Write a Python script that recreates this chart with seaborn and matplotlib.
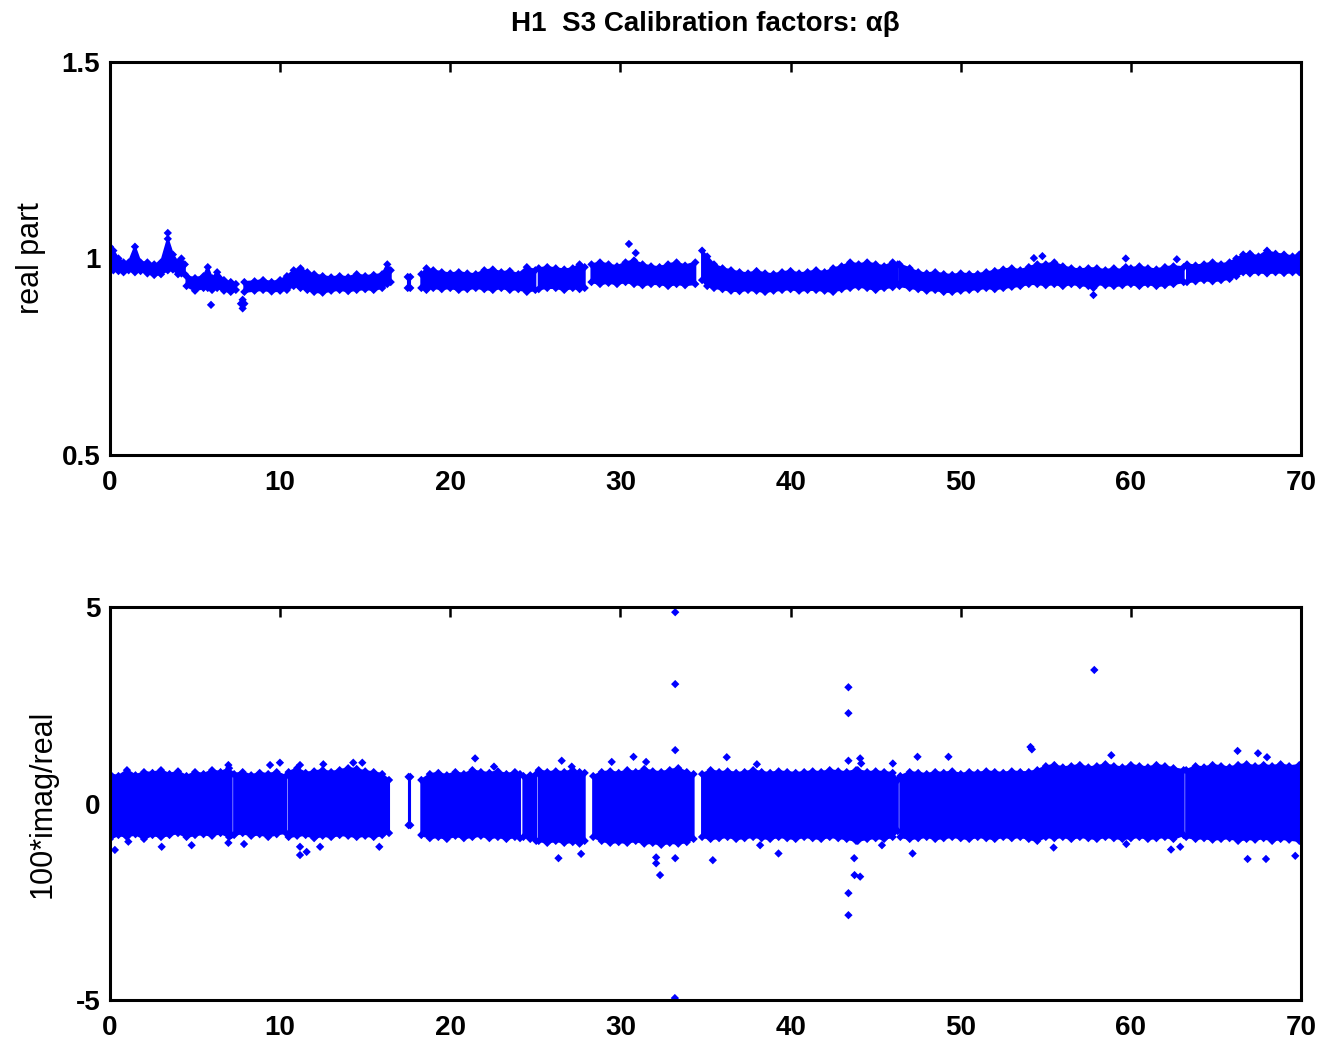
import numpy as np
import matplotlib
matplotlib.use("Agg")
import matplotlib.pyplot as plt
import seaborn as sns

nan = np.nan

# ---- top panel: real part, band envelopes (NaN = gap between data runs)
real_x = [0, 0.2, 0.5, 0.8, 1.1, 1.47, 1.8, 2.2, 2.6, 3.0, 3.4, 3.7, 4.0, 4.2, 4.4, nan,
          4.5, 5.0, 5.5, 5.75, 6.0, 6.3, 6.7, 7.1, 7.4, nan,
          7.9, 8.5, 9.0, 9.5, 10.0, 10.4,
          10.8, 11.2, 11.6, 12.0, 12.5, 13.0, 13.5, 14.0, 14.5, 15.0, 15.5, 16.0, 16.3, 16.5, nan,
          17.5, 17.65, nan,
          18.3, 18.6, 19.0, 19.5, 20.0, 20.5, 21.0, 21.5, 22.0, 22.5, 23.0, 23.5, 24.0, 24.5, 25.0, nan,
          25.2, 25.7, 26.2, 26.7, 27.2, 27.6, 27.9, nan,
          28.3, 28.8, 29.3, 29.8, 30.3, 30.8, 31.3, 31.8, 32.3, 32.8, 33.3, 33.8, 34.4, nan,
          34.8, 35.1, 35.5, 36.0, 36.5, 37.0, 37.5, 38.0, 38.5, 39.0, 39.5, 40.0, 40.5, 41.0,
          41.5, 42.0, 42.5, 43.0, 43.5, 44.0, 44.5, 45.0, 45.5, 46.0, 46.3, nan,
          46.4, 47.0, 47.5, 48.0, 48.5, 49.0, 49.5, 50.0, 50.5, 51.0, 51.5, 52.0, 52.5, 53.0,
          53.5, 54.0, 54.5, 55.0, 55.5, 56.0, 56.5, 57.0, 57.5, 58.0, 58.5, 59.0, 59.5, 60.0,
          60.5, 61.0, 61.5, 62.0, 62.5, 63.1, nan,
          63.3, 63.8, 64.3, 64.8, 65.3, 65.8, 66.2, 66.6, 67.0, 67.5, 68.0, 68.5, 69.0, 69.5, 69.9]
real_hi = [1.03, 1.02, 1.0, 0.99, 0.99, 1.03, 0.99, 0.99, 0.985, 0.99, 1.05, 1.01, 0.99, 1.0, 0.985, nan,
           0.955, 0.95, 0.955, 0.978, 0.95, 0.965, 0.945, 0.94, 0.935, nan,
           0.94, 0.942, 0.945, 0.94, 0.945, 0.955,
           0.97, 0.975, 0.965, 0.96, 0.955, 0.952, 0.955, 0.952, 0.96, 0.955, 0.958, 0.96, 0.985, 0.97, nan,
           0.953, 0.953, nan,
           0.96, 0.975, 0.97, 0.965, 0.962, 0.965, 0.962, 0.96, 0.97, 0.972, 0.965, 0.968, 0.96, 0.978, 0.97, nan,
           0.975, 0.978, 0.975, 0.972, 0.975, 0.985, 0.978, nan,
           0.985, 0.99, 0.985, 0.98, 0.99, 0.995, 0.985, 0.98, 0.978, 0.985, 0.99, 0.982, 0.99, nan,
           1.02, 1.005, 0.985, 0.975, 0.97, 0.965, 0.962, 0.968, 0.962, 0.96, 0.965, 0.968, 0.962, 0.965,
           0.97, 0.965, 0.975, 0.98, 0.99, 0.985, 0.99, 0.985, 0.98, 0.99, 0.985, nan,
           0.985, 0.975, 0.965, 0.962, 0.965, 0.96, 0.958, 0.962, 0.96, 0.96, 0.965, 0.968, 0.972, 0.975,
           0.97, 0.978, 0.985, 0.985, 0.99, 0.98, 0.975, 0.972, 0.975, 0.975, 0.97, 0.975, 0.97, 0.975,
           0.98, 0.975, 0.972, 0.978, 0.98, 0.978, nan,
           0.985, 0.982, 0.985, 0.99, 0.985, 0.99, 1.0, 1.01, 1.012, 1.005, 1.02, 1.012, 1.01, 1.005, 1.01]
real_lo = [0.975, 0.97, 0.968, 0.965, 0.97, 0.965, 0.968, 0.962, 0.958, 0.96, 0.97, 0.972, 0.96, 0.962, 0.96, nan,
           0.93, 0.918, 0.925, 0.925, 0.92, 0.925, 0.918, 0.915, 0.92, nan,
           0.915, 0.918, 0.92, 0.916, 0.918, 0.92,
           0.93, 0.925, 0.92, 0.915, 0.913, 0.918, 0.92, 0.917, 0.92, 0.922, 0.92, 0.925, 0.935, 0.94, nan,
           0.925, 0.925, nan,
           0.925, 0.92, 0.925, 0.922, 0.925, 0.92, 0.922, 0.925, 0.922, 0.92, 0.925, 0.92, 0.922, 0.915, 0.92, nan,
           0.922, 0.925, 0.925, 0.92, 0.925, 0.922, 0.925, nan,
           0.94, 0.935, 0.938, 0.935, 0.94, 0.935, 0.932, 0.935, 0.935, 0.93, 0.935, 0.932, 0.935, nan,
           0.945, 0.93, 0.925, 0.922, 0.918, 0.917, 0.92, 0.918, 0.915, 0.918, 0.92, 0.922, 0.918, 0.92,
           0.92, 0.918, 0.915, 0.922, 0.925, 0.928, 0.925, 0.92, 0.925, 0.927, 0.935, nan,
           0.93, 0.925, 0.922, 0.918, 0.92, 0.915, 0.915, 0.918, 0.92, 0.922, 0.925, 0.922, 0.925, 0.928,
           0.93, 0.935, 0.935, 0.932, 0.935, 0.93, 0.935, 0.932, 0.93, 0.935, 0.932, 0.93, 0.932, 0.935,
           0.93, 0.935, 0.93, 0.932, 0.935, 0.94, nan,
           0.94, 0.942, 0.945, 0.942, 0.945, 0.948, 0.955, 0.965, 0.962, 0.965, 0.962, 0.965, 0.963, 0.965, 0.965]

# isolated points of the real part
real_out_x = [5.94, 7.7, 7.9, 7.8, 7.8, 30.5, 30.9, 54.3, 54.8, 57.8, 57.8, 59.7, 59.7, 62.7, 3.4]
real_out_y = [0.882, 0.885, 0.885, 0.873, 0.895, 1.037, 1.014, 1.001, 1.006, 0.925, 0.907, 1.0, 0.978, 0.998, 1.065]

# ---- bottom panel: 100*imag/real, band envelopes
imag_x = [0, 0.5, 1.0, 1.5, 2.0, 2.5, 3.0, 3.5, 4.0, 4.5, 5.0, 5.5, 6.0, 6.5, 7.0, 7.15, nan,
          7.3, 7.8, 8.3, 8.8, 9.3, 9.8, 10.35, nan,
          10.5, 11.0, 11.5, 12.0, 12.5, 13.0, 13.5, 14.0, 14.5, 15.0, 15.5, 16.0, 16.4, nan,
          17.55, 17.65, nan,
          18.3, 18.8, 19.3, 19.8, 20.3, 20.8, 21.3, 21.8, 22.3, 22.8, 23.3, 23.8, 24.1, nan,
          24.3, 24.7, 25.05, nan,
          25.2, 25.7, 26.2, 26.7, 27.2, 27.6, 27.9, nan,
          28.4, 28.9, 29.4, 29.9, 30.4, 30.9, 31.4, 31.9, 32.4, 32.9, 33.4, 33.9, 34.3, nan,
          34.8, 35.3, 35.8, 36.3, 36.8, 37.3, 37.8, 38.3, 38.8, 39.3, 39.8, 40.3, 40.8, 41.3,
          41.8, 42.3, 42.8, 43.3, 43.85, nan,
          43.95, 44.5, 45.0, 45.5, 46.0, 46.3, nan,
          46.45, 47.0, 47.5, 48.0, 48.5, 49.0, 49.5, 50.0, 50.5, 51.0, 51.5, 52.0, 52.5, 53.0,
          53.5, 54.0, 54.5, 55.0, 55.5, 56.0, 56.5, 57.0, 57.5, 58.0, 58.5, 59.0, 59.5, 60.0,
          60.5, 61.0, 61.5, 62.0, 62.5, 63.1, nan,
          63.25, 63.8, 64.3, 64.8, 65.3, 65.8, 66.3, 66.8, 67.3, 67.8, 68.3, 68.8, 69.3, 69.9]
imag_hi = [0.75, 0.7, 0.85, 0.72, 0.8, 0.78, 0.85, 0.75, 0.82, 0.7, 0.8, 0.75, 0.85, 0.8, 0.9, 0.75, nan,
           0.75, 0.8, 0.72, 0.78, 0.75, 0.8, 0.7, nan,
           0.8, 0.9, 0.78, 0.82, 0.85, 0.8, 0.85, 0.9, 0.88, 0.82, 0.8, 0.75, 0.6, nan,
           0.68, 0.68, nan,
           0.6, 0.75, 0.78, 0.72, 0.8, 0.75, 0.85, 0.8, 0.78, 0.82, 0.75, 0.8, 0.75, nan,
           0.7, 0.72, 0.75, nan,
           0.85, 0.8, 0.82, 0.8, 0.85, 0.8, 0.78, nan,
           0.7, 0.8, 0.82, 0.78, 0.85, 0.8, 0.88, 0.82, 0.8, 0.85, 0.9, 0.8, 0.75, nan,
           0.75, 0.85, 0.8, 0.82, 0.78, 0.8, 0.85, 0.8, 0.78, 0.82, 0.8, 0.78, 0.8, 0.82,
           0.8, 0.85, 0.82, 0.8, 0.85, nan,
           0.85, 0.8, 0.82, 0.8, 0.78, 0.6, nan,
           0.7, 0.8, 0.78, 0.75, 0.8, 0.78, 0.82, 0.75, 0.8, 0.78, 0.82, 0.8, 0.78, 0.82,
           0.8, 0.8, 0.85, 0.95, 0.98, 0.92, 0.95, 0.98, 0.92, 0.95, 1.0, 0.95, 0.92, 0.98,
           0.95, 0.92, 0.98, 0.95, 0.9, 0.85, nan,
           0.85, 0.95, 0.92, 0.98, 0.95, 0.92, 0.98, 1.0, 0.95, 0.98, 0.95, 1.0, 0.95, 0.98]
imag_lo = [-0.9, -0.8, -0.85, -0.78, -0.9, -0.8, -0.85, -0.8, -0.75, -0.85, -0.8, -0.78, -0.82, -0.75, -0.85, -0.8, nan,
           -0.8, -0.75, -0.82, -0.78, -0.85, -0.78, -0.75, nan,
           -0.85, -0.82, -0.8, -0.88, -0.82, -0.85, -0.8, -0.82, -0.85, -0.82, -0.85, -0.8, -0.75, nan,
           -0.55, -0.55, nan,
           -0.8, -0.88, -0.85, -0.9, -0.82, -0.88, -0.85, -0.82, -0.88, -0.85, -0.9, -0.85, -0.88, nan,
           -0.85, -0.9, -0.95, nan,
           -0.95, -1.0, -0.95, -1.0, -0.98, -1.02, -0.95, nan,
           -0.85, -0.95, -1.0, -0.98, -1.0, -0.95, -1.02, -1.0, -1.05, -1.0, -1.02, -0.98, -0.9, nan,
           -0.85, -0.9, -0.88, -0.85, -0.9, -0.88, -0.85, -0.88, -0.9, -0.85, -0.88, -0.9, -0.85, -0.88,
           -0.9, -0.85, -0.88, -0.9, -0.95, nan,
           -0.95, -0.9, -0.88, -0.9, -0.85, -0.7, nan,
           -0.85, -0.9, -0.88, -0.85, -0.9, -0.88, -0.85, -0.88, -0.9, -0.85, -0.88, -0.9, -0.85, -0.88,
           -0.85, -0.9, -0.95, -0.85, -0.88, -0.85, -0.9, -0.85, -0.88, -0.9, -0.85, -0.88, -0.9, -0.88,
           -0.85, -0.9, -0.88, -0.85, -0.9, -0.8, nan,
           -0.85, -0.9, -0.88, -0.92, -0.9, -0.88, -0.95, -0.9, -0.92, -0.88, -0.95, -0.9, -0.92, -0.95]

# isolated points of the imaginary ratio
imag_out_x = [6.96, 9.41, 9.99, 11.17, 12.54, 14.3, 14.83,
              0.29, 1.08, 3.04, 4.8, 6.96, 7.88, 11.17, 11.17, 11.56, 12.35, 15.83,
              21.46, 22.57, 26.55, 27.14, 29.49, 30.77, 31.51, 33.22,
              26.36, 27.69, 32.1, 32.1, 32.33, 33.22, 35.43,
              36.25, 38.02, 43.4, 44.09, 44.15, 46.01, 47.46, 49.28,
              38.21, 39.29, 43.74, 43.76, 44.09, 47.17, 45.37,
              54.18, 58.85, 66.27, 67.47, 68.0,
              55.46, 59.73, 62.36, 62.9, 66.86, 67.94, 69.66,
              33.22, 33.22, 43.4, 43.4, 43.4, 43.4, 57.85, 54.1, 33.2]
imag_out_y = [0.98, 0.98, 1.04, 0.98, 1.0, 1.04, 1.04,
              -1.18, -0.97, -1.1, -1.06, -1.0, -1.03, -1.1, -1.31, -1.23, -1.1, -1.1,
              1.15, 0.94, 1.09, 0.94, 1.06, 1.19, 1.06, 1.36,
              -1.39, -1.28, -1.37, -1.52, -1.82, -1.39, -1.44,
              1.18, 1.0, 1.09, 1.15, 1.02, 1.02, 1.19, 1.19,
              -1.06, -1.27, -1.39, -1.82, -1.86, -1.27, -1.06,
              1.38, 1.23, 1.34, 1.28, 1.18,
              -1.12, -1.03, -1.17, -1.1, -1.41, -1.41, -1.33,
              4.87, 3.04, 2.96, 2.3, -2.28, -2.84, 3.4, 1.44, -4.95]

xticks = [0, 10, 20, 30, 40, 50, 60, 70]
real_ticks = [0.5, 1, 1.5]
real_ticklabels = ["0.5", "1", "1.5"]
imag_ticks = [-5, 0, 5]
imag_ticklabels = ["-5", "0", "5"]

sns.set_style("white")
plt.rcParams['font.family'] = ['Liberation Sans', 'DejaVu Sans']
plt.rcParams['text.color'] = 'black'
plt.rcParams['axes.labelcolor'] = 'black'
plt.rcParams['xtick.color'] = 'black'
plt.rcParams['ytick.color'] = 'black'

blue = '#0000FF'
fig = plt.figure(figsize=(13.23, 10.44), dpi=100)
ax1 = fig.add_axes([0.0831, 0.5642, 0.9003, 0.3764])
ax2 = fig.add_axes([0.0831, 0.0421, 0.9003, 0.3764])


def draw_band(ax, x, lo, hi):
    x = np.array(x, dtype=float)
    lo = np.array(lo, dtype=float)
    hi = np.array(hi, dtype=float)
    ax.fill_between(x, lo, hi, color=blue, linewidth=1.5, edgecolor=blue)
    # speckled edges like the individual markers
    ok = ~np.isnan(x)
    sns.scatterplot(x=np.r_[x[ok], x[ok]], y=np.r_[lo[ok], hi[ok]], ax=ax,
                    marker='D', s=18, color=blue, edgecolor='none', linewidth=0)


draw_band(ax1, real_x, real_lo, real_hi)
sns.scatterplot(x=real_out_x, y=real_out_y, ax=ax1, marker='D', s=18,
                color=blue, edgecolor='none', linewidth=0)
draw_band(ax2, imag_x, imag_lo, imag_hi)
sns.scatterplot(x=imag_out_x, y=imag_out_y, ax=ax2, marker='D', s=18,
                color=blue, edgecolor='none', linewidth=0)

ax1.set_ylim(0.5, 1.5)
ax1.set_yticks(real_ticks)
ax1.set_yticklabels(real_ticklabels)
ax1.set_ylabel('real part', fontsize=22)
ax1.yaxis.set_label_coords(-0.054, 0.5)
ax1.set_title('H1  S3 Calibration factors: αβ', fontsize=20, fontweight='bold', pad=22)

ax2.set_ylim(-5, 5)
ax2.set_yticks(imag_ticks)
ax2.set_yticklabels(imag_ticklabels)
ax2.set_ylabel('100*imag/real', fontsize=22)
ax2.yaxis.set_label_coords(-0.044, 0.5)

for ax in (ax1, ax2):
    ax.set_xlim(0, 70)
    ax.set_xticks(xticks)
    ax.set_xticklabels([str(t) for t in xticks])
    ax.tick_params(axis='x', pad=11)
    ax.tick_params(axis='y', pad=7)
    ax.tick_params(direction='in', length=7, width=1.8, top=True, right=True,
                   labelsize=20, color='black', labelcolor='black')
    for lab in ax.get_xticklabels() + ax.get_yticklabels():
        lab.set_fontweight('bold')
    for sp in ax.spines.values():
        sp.set_linewidth(2.2)
        sp.set_color('black')
    ax.set_xlabel('')

fig.savefig('out.png', dpi=100)
